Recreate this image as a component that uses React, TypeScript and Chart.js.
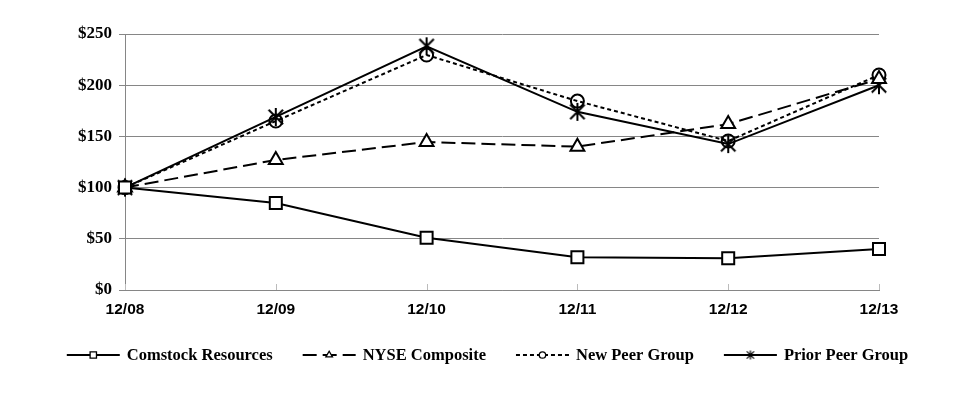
import React, { useEffect, useRef } from "react";
import { Chart, registerables } from "chart.js";
import { drawPoint } from "chart.js/helpers";

Chart.register(...registerables);

const categories = ["12/08", "12/09", "12/10", "12/11", "12/12", "12/13"];
const comstock = [100, 85, 51, 32, 31, 40];
const nyse = [100, 127, 144.5, 140, 162, 206];
const newPeer = [100, 165, 229.5, 184.5, 145.5, 210];
const priorPeer = [100, 169, 238, 174, 142.5, 200];
const seriesNames = ["Comstock Resources", "NYSE Composite", "New Peer Group", "Prior Peer Group"];
const yTicks = [0, 50, 100, 150, 200, 250];

const GRID = "#868686";

const legendSizes = [4.5, 3.8, 3.2, 4];

function makeStar(half: number, lw: number): HTMLCanvasElement {
  const c = document.createElement("canvas");
  const s = Math.ceil(half * 2 + lw * 2);
  c.width = s;
  c.height = s;
  const g = c.getContext("2d") as CanvasRenderingContext2D;
  const m = s / 2;
  const d = half * 0.8;
  g.strokeStyle = "#000";
  g.lineWidth = lw;
  g.beginPath();
  g.moveTo(m, m - half);
  g.lineTo(m, m + half);
  g.moveTo(m - d, m - d);
  g.lineTo(m + d, m + d);
  g.moveTo(m + d, m - d);
  g.lineTo(m - d, m + d);
  g.stroke();
  return c;
}

const customLegend = {
  id: "customLegend",
  afterDraw(chart: any) {
    const ctx = chart.ctx;
    const y = 355;
    const sample = 53;
    const gap = 7;
    const itemGap = 30;
    const smallStar = makeStar(4.5, 1.2);
    ctx.save();
    ctx.font = "bold 16.5px 'Liberation Serif'";
    const widths = chart.data.datasets.map((d: any) => ctx.measureText(d.label).width);
    const total = widths.reduce((a: number, w: number) => a + sample + gap + w, 0) + itemGap * (widths.length - 1);
    let x = (chart.width - total) / 2;
    chart.data.datasets.forEach((d: any, i: number) => {
      ctx.strokeStyle = "#000";
      ctx.lineWidth = 2;
      ctx.setLineDash(d.borderDash || []);
      ctx.beginPath();
      ctx.moveTo(x, y);
      ctx.lineTo(x + sample, y);
      ctx.stroke();
      ctx.setLineDash([]);
      ctx.fillStyle = "#fff";
      ctx.lineWidth = 1.3;
      const ps = typeof d.pointStyle === "string" ? d.pointStyle : smallStar;
      drawPoint(ctx, { pointStyle: ps, radius: legendSizes[i], borderWidth: 1.3, rotation: 0 }, x + sample / 2, y);
      ctx.fillStyle = "#000";
      ctx.textBaseline = "middle";
      ctx.textAlign = "left";
      ctx.fillText(d.label, x + sample + gap, y + 1);
      x += sample + gap + widths[i] + itemGap;
    });
    ctx.restore();
  },
};

const xTickMarks = {
  id: "xTickMarks",
  beforeDatasetsDraw(chart: any) {
    const ctx = chart.ctx;
    const xs = chart.scales.x;
    const bottom = chart.chartArea.bottom;
    ctx.save();
    ctx.strokeStyle = "#bbbbbb";
    ctx.lineWidth = 1;
    xs.ticks.forEach((_t: any, i: number) => {
      const px = Math.round(xs.getPixelForTick(i)) + 0.5;
      ctx.beginPath();
      ctx.moveTo(px, bottom - 6);
      ctx.lineTo(px, bottom);
      ctx.stroke();
    });
    ctx.restore();
  },
};

export default function App() {
  const ref = useRef<HTMLCanvasElement>(null);
  useEffect(() => {
    document.body.style.margin = "0";
    const bigStar = makeStar(9, 2);
    const chart = new Chart(ref.current as HTMLCanvasElement, {
      type: "line",
      data: {
        labels: categories,
        datasets: [
          {
            label: seriesNames[0],
            data: comstock,
            borderColor: "#000",
            borderWidth: 2,
            pointStyle: "rect",
            pointRadius: 8.5,
            pointBorderWidth: 2,
            pointBorderColor: "#000",
            pointBackgroundColor: "#fff",
            tension: 0,
          },
          {
            label: seriesNames[1],
            data: nyse,
            borderColor: "#000",
            borderWidth: 2,
            borderDash: [14, 6],
            pointStyle: "triangle",
            pointRadius: 8,
            pointBorderWidth: 2,
            pointBorderColor: "#000",
            pointBackgroundColor: "#fff",
            tension: 0,
          },
          {
            label: seriesNames[2],
            data: newPeer,
            borderColor: "#000",
            borderWidth: 2,
            borderDash: [4, 3],
            pointStyle: "circle",
            pointRadius: 6.5,
            pointBorderWidth: 2,
            pointBorderColor: "#000",
            pointBackgroundColor: "rgba(0,0,0,0)",
            tension: 0,
          },
          {
            label: seriesNames[3],
            data: priorPeer,
            borderColor: "#000",
            borderWidth: 2,
            pointStyle: bigStar as any,
            pointRadius: 9,
            pointBorderWidth: 2,
            pointBorderColor: "#000",
            pointBackgroundColor: "rgba(0,0,0,0)",
            tension: 0,
          },
        ],
      },
      options: {
        responsive: false,
        animation: false,
        layout: { padding: { left: 0, right: 96, top: 34, bottom: 80 } },
        plugins: {
          legend: { display: false },
          tooltip: { enabled: false },
        },
        scales: {
          x: {
            type: "category",
            offset: false,
            grid: { drawOnChartArea: false, drawTicks: false },
            border: { color: GRID, width: 1 },
            ticks: {
              color: "#000",
              padding: 10,
              font: { family: "'Liberation Sans'", weight: "bold", size: 15.5 },
              maxRotation: 0,
            },
            afterFit: (s: any) => {
              s.height = 30;
            },
          },
          y: {
            min: 0,
            max: 250,
            afterBuildTicks: (s: any) => {
              s.ticks = yTicks.map((v) => ({ value: v }));
            },
            grid: { color: GRID, lineWidth: 1, tickLength: 6 },
            border: { color: GRID, width: 1 },
            ticks: {
              color: "#000",
              padding: 7,
              font: { family: "'Liberation Serif'", weight: "bold", size: 17 },
              callback: (v: any) => "$" + v,
            },
            afterFit: (s: any) => {
              s.width = 125;
            },
          },
        },
      },
      plugins: [customLegend, xTickMarks],
    });
    return () => chart.destroy();
  }, []);
  return (
    <div style={{ width: 975, height: 400, background: "#fff" }}>
      <canvas ref={ref} width={975} height={400} style={{ display: "block" }} />
    </div>
  );
}
